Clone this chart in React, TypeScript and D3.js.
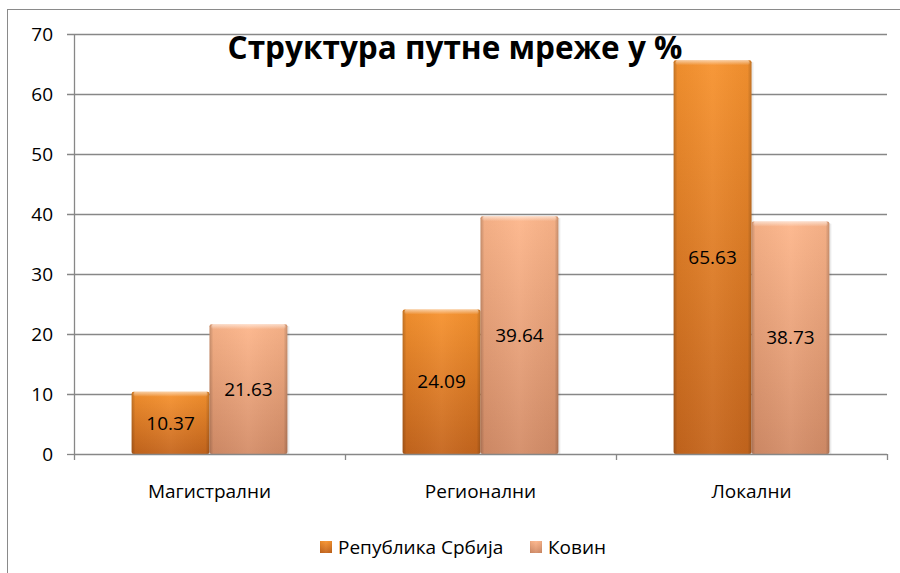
import React from "react";
import * as d3 from "d3";

const categories = ["Магистрални", "Регионални", "Локални"];
const seriesNames = ["Република Србија", "Ковин"];
const srbija = [10.37, 24.09, 65.63];
const kovin = [21.63, 39.64, 38.73];
const yTicks = [0, 10, 20, 30, 40, 50, 60, 70];
const title = "Структура путне мреже у %";

const W = 900;
const H = 573;
const FONT = "'Open Sans', 'Noto Sans', sans-serif";

const palette = [
  { top: "#f7932f", bottom: "#c6661d", id: "gSrb" },
  { top: "#fdb68b", bottom: "#d48d68", id: "gKov" },
];

const App = () => {
  const plot = { left: 74, right: 887, top: 34, bottom: 454 };

  const y = d3.scaleLinear().domain([0, 70]).range([plot.bottom, plot.top]);
  const x = d3.scaleBand<string>().domain(categories).range([plot.left, plot.right]);
  const inner = d3
    .scaleBand<string>()
    .domain(seriesNames)
    .range([0, x.bandwidth()])
    .paddingInner(0)
    .paddingOuter(0.74);

  const allSeries = [srbija, kovin];
  const boundaries = categories.map((c) => x(c) as number).concat([plot.right]);

  return (
    <svg
      width={W}
      height={H}
      style={{ position: "absolute", left: 0, top: 0, background: "#fff" }}
      fontFamily={FONT}
    >
      <defs>
        {palette.map((p) => (
          <linearGradient key={p.id} id={p.id} x1="0" y1="0" x2="0" y2="1">
            <stop offset="0%" stopColor={p.top} />
            <stop offset="100%" stopColor={p.bottom} />
          </linearGradient>
        ))}
        <linearGradient id="edges" x1="0" y1="0" x2="1" y2="0">
          <stop offset="0%" stopColor="#000" stopOpacity={0.22} />
          <stop offset="5%" stopColor="#000" stopOpacity={0.04} />
          <stop offset="50%" stopColor="#fff" stopOpacity={0.05} />
          <stop offset="95%" stopColor="#000" stopOpacity={0.04} />
          <stop offset="100%" stopColor="#000" stopOpacity={0.22} />
        </linearGradient>
        <linearGradient id="topBevel" x1="0" y1="0" x2="0" y2="1">
          <stop offset="0%" stopColor="#fff" stopOpacity={0.55} />
          <stop offset="100%" stopColor="#fff" stopOpacity={0} />
        </linearGradient>
      </defs>

      <rect x={7.5} y={9.5} width={W} height={H} fill="#fff" stroke="#8a8a8a" />

      <g>
        {yTicks.map((t) => (
          <g key={t}>
            <line
              x1={plot.left - 7}
              x2={t === 0 ? plot.left : plot.right}
              y1={Math.round(y(t)) + 0.5}
              y2={Math.round(y(t)) + 0.5}
              stroke="#878787"
              strokeWidth={1.3}
            />
            <text
              x={53}
              y={y(t)}
              dy="0.35em"
              textAnchor="end"
              fontSize={19}
              fill="#000"
            >
              {t}
            </text>
          </g>
        ))}
        <line x1={plot.left + 0.5} x2={plot.left + 0.5} y1={plot.top} y2={plot.bottom} stroke="#878787" strokeWidth={1.3} />
      </g>

      {categories.map((c, ci) =>
        allSeries.map((vals, si) => {
          const x0 = (x(c) as number) + (inner(seriesNames[si]) as number);
          const w = inner.bandwidth();
          const y0 = y(vals[ci]);
          const h = plot.bottom - y0;
          return (
            <g key={c + si}>
              <rect x={x0 + 2} y={y0 + 2} width={w} height={h - 2} fill="#000" opacity={0.08} />
              <rect x={x0} y={y0} width={w} height={h} rx={2} fill={`url(#${palette[si].id})`} />
              <rect x={x0} y={y0} width={w} height={h} rx={2} fill="url(#edges)" />
              <rect x={x0 + 2} y={y0} width={w - 4} height={5} rx={2} fill="url(#topBevel)" />
              <text
                x={x0 + w / 2}
                y={y0 + h / 2}
                dy="0.35em"
                textAnchor="middle"
                fontSize={19}
                fill="#000"
              >
                {vals[ci].toFixed(2)}
              </text>
            </g>
          );
        })
      )}

      <text x={455} y={59} textAnchor="middle" fontSize={31.5} fontWeight="bold" fill="#000">
        {title}
      </text>

      <line x1={plot.left} x2={plot.right} y1={plot.bottom + 0.5} y2={plot.bottom + 0.5} stroke="#878787" strokeWidth={1.3} />
      {boundaries.map((b, i) => (
        <line
          key={i}
          x1={b + 0.5}
          x2={b + 0.5}
          y1={plot.bottom}
          y2={plot.bottom + 6}
          stroke="#878787"
          strokeWidth={1.3}
        />
      ))}
      {categories.map((c) => (
        <text
          key={c}
          x={(x(c) as number) + x.bandwidth() / 2}
          y={491}
          dy="0.35em"
          textAnchor="middle"
          fontSize={19}
          fill="#000"
        >
          {c}
        </text>
      ))}

      <g>
        {seriesNames.map((s, i) => {
          const lx = i === 0 ? 320 : 530;
          return (
            <g key={s}>
              <rect x={lx} y={541} width={12} height={12} fill={`url(#${palette[i].id})`} />
              <rect x={lx} y={541} width={12} height={12} fill="url(#edges)" />
              <text x={lx + 18} y={547} dy="0.35em" fontSize={19} fill="#000">
                {s}
              </text>
            </g>
          );
        })}
      </g>
    </svg>
  );
};

export default App;
